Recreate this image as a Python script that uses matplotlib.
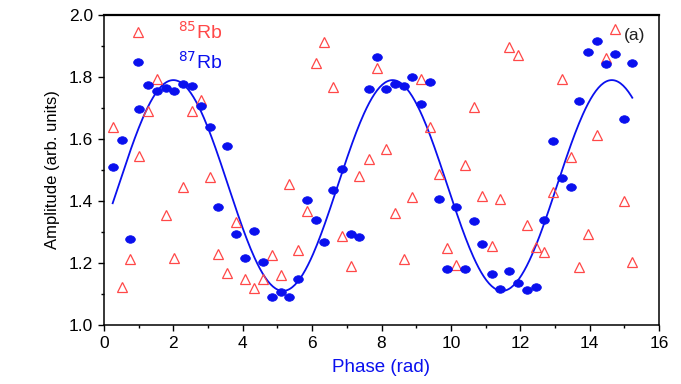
#!/usr/bin/env python3
# Phase scan of Rb85 / Rb87 amplitudes with sine fit on Rb87

import numpy as np
import matplotlib
matplotlib.use('Agg')
import matplotlib.pyplot as plt
from matplotlib.path import Path
from matplotlib.transforms import Affine2D
from matplotlib.ticker import MultipleLocator

plt.rcParams['font.family'] = ['Liberation Sans', 'DejaVu Sans']

# phase values (rad), same for both isotopes
phase = [0.25, 0.51, 0.75, 1.01, 1.28, 1.53, 1.78, 2.03, 2.28, 2.54,
         2.79, 3.05, 3.30, 3.55, 3.81, 4.06, 4.33, 4.58, 4.84, 5.09,
         5.34, 5.59, 5.85, 6.10, 6.35, 6.60, 6.86, 7.11, 7.36, 7.63,
         7.88, 8.13, 8.39, 8.64, 8.89, 9.14, 9.40, 9.65, 9.90, 10.15,
         10.41, 10.66, 10.91, 11.18, 11.43, 11.68, 11.93, 12.19, 12.44, 12.69,
         12.94, 13.20, 13.45, 13.70, 13.96, 14.21, 14.46, 14.73, 14.98, 15.23]

rb87 = [1.511, 1.598, 1.276, 1.696, 1.773, 1.755, 1.766, 1.755, 1.777, 1.772,
        1.707, 1.640, 1.381, 1.577, 1.293, 1.216, 1.304, 1.202, 1.090, 1.107,
        1.090, 1.147, 1.404, 1.340, 1.267, 1.437, 1.503, 1.295, 1.285, 1.762,
        1.866, 1.762, 1.778, 1.772, 1.799, 1.714, 1.785, 1.408, 1.181, 1.381,
        1.181, 1.334, 1.261, 1.163, 1.117, 1.173, 1.134, 1.112, 1.122, 1.340,
        1.593, 1.474, 1.445, 1.721, 1.882, 1.916, 1.843, 1.875, 1.664, 1.844]

rb85 = [1.639, 1.123, 1.213, 1.545, 1.690, 1.794, 1.355, 1.216, 1.444, 1.690,
        1.727, 1.478, 1.229, 1.169, 1.333, 1.148, 1.119, 1.147, 1.225, 1.160,
        1.455, 1.243, 1.367, 1.845, 1.914, 1.769, 1.287, 1.190, 1.481, 1.534,
        1.828, 1.567, 1.361, 1.214, 1.414, 1.794, 1.639, 1.488, 1.249, 1.194,
        1.517, 1.702, 1.416, 1.255, 1.406, 1.896, 1.872, 1.324, 1.252, 1.234,
        1.430, 1.793, 1.543, 1.188, 1.292, 1.613, 1.862, 1.955, 1.399, 1.202]

# sine fit parameters on Rb87
FIT_OFFSET = 1.45
FIT_AMP = 0.34
FIT_PERIOD = 6.32
FIT_PEAK = 2.0

BLUE = '#0a10ee'
RED = '#ff4848'

# ellipse marker (wider than tall)
ellipse = Path.unit_circle().transformed(Affine2D().scale(1.0, 0.78))

fig = plt.figure(figsize=(6.81, 3.84), dpi=100)
ax = fig.add_axes([104/681, 1 - 325/384, 555/681, 310/384])

xf = np.linspace(phase[0], phase[-1], 400)
yf = FIT_OFFSET + FIT_AMP*np.cos(2*np.pi*(xf - FIT_PEAK)/FIT_PERIOD)

h85, = ax.plot(phase, rb85, linestyle='none', marker='^', markersize=7.5,
               markerfacecolor='none', markeredgecolor=RED, markeredgewidth=0.9,
               label=r'$^{85}$Rb', zorder=3)
h87, = ax.plot(phase, rb87, linestyle='none', marker=ellipse, markersize=7,
               markerfacecolor=BLUE, markeredgecolor=BLUE, markeredgewidth=0.5,
               label=r'$^{87}$Rb', zorder=4)
ax.plot(xf, yf, color=BLUE, lw=1.3, zorder=2)

leg = ax.legend(handles=[h85, h87], loc='upper left', bbox_to_anchor=(0.015, 1.03),
                frameon=False, fontsize=14, handlelength=1.0, handletextpad=1.6,
                labelspacing=0.4, borderpad=0.3, labelcolor=[RED, BLUE])

ax.text(15.6, 1.935, '(a)', fontsize=12.5, ha='right', va='center', color='#202020')

ax.set_xlim(0, 16)
ax.set_ylim(1.0, 2.0)
ax.xaxis.set_major_locator(MultipleLocator(2))
ax.xaxis.set_minor_locator(MultipleLocator(1))
ax.yaxis.set_major_locator(MultipleLocator(0.2))
ax.yaxis.set_minor_locator(MultipleLocator(0.1))
ax.yaxis.set_major_formatter(plt.FormatStrFormatter('%.1f'))

ax.tick_params(which='major', direction='out', length=4.5, width=1.0, labelsize=12.5)
ax.tick_params(which='minor', direction='out', length=2.5, width=1.0)
ax.tick_params(top=False, right=False, which='both')
for s in ax.spines.values():
    s.set_linewidth(1.1)
ax.spines['top'].set_linewidth(1.6)

ax.set_xlabel('Phase (rad)', fontsize=13.5, color=BLUE, labelpad=6)
ax.set_ylabel('Amplitude (arb. units)', fontsize=12, labelpad=6)

fig.savefig('out.png', dpi=100)
